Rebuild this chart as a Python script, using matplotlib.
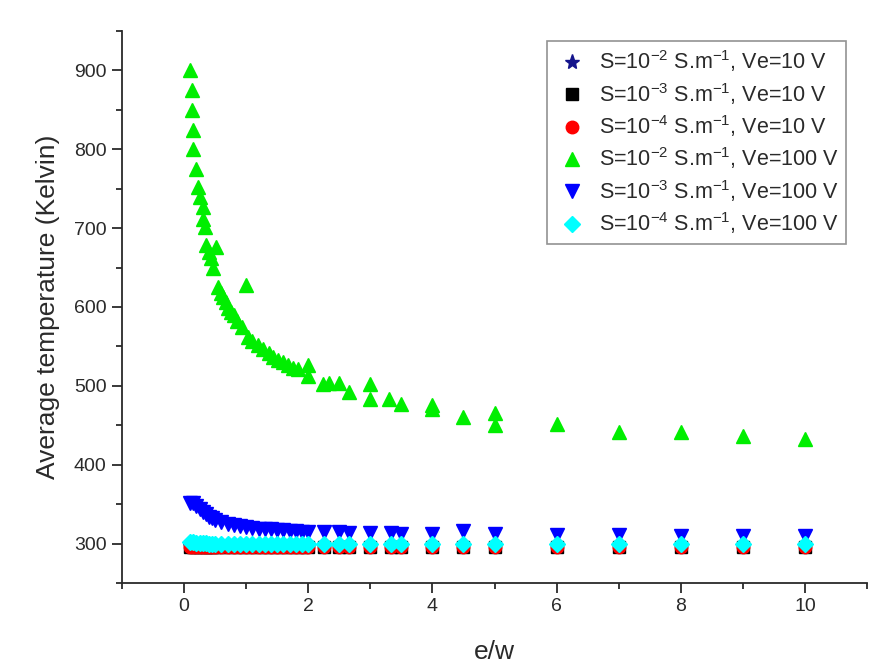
import matplotlib
matplotlib.use('Agg')
import matplotlib.pyplot as plt
from matplotlib.ticker import MultipleLocator

# e/w values and average temperatures (K)
green_x = [0.1, 0.12, 0.13, 0.14, 0.15, 0.19, 0.22, 0.25, 0.3, 0.3,
           0.33, 0.36, 0.4, 0.44, 0.47, 0.52, 0.55, 0.6, 0.63, 0.67,
           0.71, 0.75, 0.8, 0.85, 0.93, 1.0, 1.03, 1.1, 1.19, 1.27,
           1.36, 1.44, 1.52, 1.6, 1.68, 1.76, 1.84, 2.0, 2.0, 2.24,
           2.34, 2.5, 2.66, 3.0, 3.0, 3.3, 3.5, 4.0, 4.0, 4.5,
           5.0, 5.0, 6.0, 7.0, 8.0, 9.0, 10.0]
green_y = [900, 875, 850, 825, 800, 775, 752, 740, 727, 712,
           701, 678, 670, 662, 649, 676, 625, 618, 613, 606,
           599, 594, 590, 582, 575, 628, 562, 557, 552, 547,
           542, 537, 533, 530, 527, 523, 521, 527, 513, 502,
           504, 504, 492, 502, 483, 483, 477, 476, 471, 461,
           465, 450, 451, 441, 441, 436, 432]

low_x = [0.1, 0.15, 0.2, 0.25, 0.3, 0.35, 0.4, 0.45, 0.5, 0.6,
         0.7, 0.8, 0.9, 1.0, 1.1, 1.2, 1.3, 1.4, 1.5, 1.6,
         1.7, 1.8, 1.9, 2.0, 2.25, 2.5, 2.66, 3.0, 3.33, 3.5,
         4.0, 4.5, 5.0, 6.0, 7.0, 8.0, 9.0, 10.0]
blue_y = [352, 351, 348, 344, 340, 337, 334, 332, 330, 327,
          325, 323, 322, 321, 320, 319, 318, 318, 317, 317,
          316, 316, 315, 315, 314, 314, 313, 313, 313, 312,
          312, 316, 312, 311, 311, 310, 310, 309]
cyan_y = [302, 302, 301, 301, 301, 301, 300, 300, 300, 300,
          300, 300, 300, 300, 300, 300, 300, 300, 300, 300,
          300, 300, 300, 300, 300, 300, 300, 300, 300, 300,
          300, 300, 300, 300, 300, 300, 300, 300]
red_y = [296] * 38
black_y = [296] * 38
star_y = [297] * 38

labels = [r'S=10$^{\mathrm{-2}}$ S.m$^{\mathrm{-1}}$, Ve=10 V',
          r'S=10$^{\mathrm{-3}}$ S.m$^{\mathrm{-1}}$, Ve=10 V',
          r'S=10$^{\mathrm{-4}}$ S.m$^{\mathrm{-1}}$, Ve=10 V',
          r'S=10$^{\mathrm{-2}}$ S.m$^{\mathrm{-1}}$, Ve=100 V',
          r'S=10$^{\mathrm{-3}}$ S.m$^{\mathrm{-1}}$, Ve=100 V',
          r'S=10$^{\mathrm{-4}}$ S.m$^{\mathrm{-1}}$, Ve=100 V']

plt.rcParams['font.family'] = ['Liberation Sans', 'DejaVu Sans']
plt.rcParams['mathtext.fontset'] = 'custom'
plt.rcParams['mathtext.rm'] = 'Liberation Sans'
plt.rcParams['mathtext.it'] = 'Liberation Sans:italic'
plt.rcParams['mathtext.bf'] = 'Liberation Sans:bold'

txt = '#2a2a2a'
fig = plt.figure(figsize=(8.75, 6.69), dpi=100)
ax = fig.add_axes([0.1394, 0.1286, 0.8515, 0.8251])

ax.plot(low_x, star_y, ls='none', marker='*', ms=11, color='#14148c', label=labels[0])
ax.plot(low_x, black_y, ls='none', marker='s', ms=8, color='black', label=labels[1])
ax.plot(low_x, red_y, ls='none', marker='o', ms=9, color='#ff0000', label=labels[2])
ax.plot(green_x, green_y, ls='none', marker='^', ms=10.5, color='#00ee00', label=labels[3])
ax.plot(low_x, blue_y, ls='none', marker='v', ms=10.5, color='#0000ff', label=labels[4])
ax.plot(low_x, cyan_y, ls='none', marker='D', ms=8, color='#00ffff', label=labels[5])

ax.set_xlim(-1, 11)
ax.set_ylim(250, 950)
ax.xaxis.set_major_locator(MultipleLocator(2))
ax.xaxis.set_minor_locator(MultipleLocator(1))
ax.yaxis.set_major_locator(MultipleLocator(100))
ax.yaxis.set_minor_locator(MultipleLocator(50))
ax.spines['top'].set_visible(False)
ax.spines['right'].set_visible(False)
for s in ('left', 'bottom'):
    ax.spines[s].set_linewidth(1.3)
    ax.spines[s].set_color(txt)
ax.tick_params(which='major', direction='out', length=7, width=1.3, labelsize=14,
               colors=txt, pad=4)
ax.tick_params(which='minor', direction='out', length=4, width=1.3, colors=txt)

ax.set_xlabel('e/w', fontsize=19, color=txt, labelpad=18)
ax.set_ylabel('Average temperature (Kelvin)', fontsize=19, color=txt, labelpad=10)

leg = ax.legend(loc='upper right', bbox_to_anchor=(0.972, 0.982), numpoints=1,
                fontsize=15.5, frameon=True, fancybox=False, labelspacing=0.3,
                handletextpad=0.45, borderpad=0.35, handlelength=1.6,
                borderaxespad=0)
leg.get_frame().set_edgecolor('#777777')
leg.get_frame().set_linewidth(1.2)
for t in leg.get_texts():
    t.set_color(txt)

fig.savefig('out.png', dpi=100)
